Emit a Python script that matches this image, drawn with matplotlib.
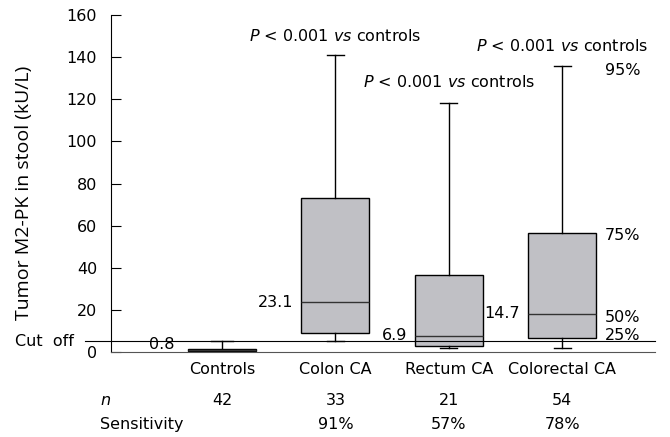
import matplotlib
matplotlib.use("Agg")
import matplotlib.pyplot as plt
from matplotlib.transforms import blended_transform_factory

categories = ["Controls", "Colon CA", "Rectum CA", "Colorectal CA"]
q1 = [0.5, 9.2, 2.9, 6.6]
medians = [0.9, 23.6, 7.8, 18.2]
q3 = [1.4, 73.0, 36.5, 56.5]
whislo = [0.5, 5.0, 1.7, 1.7]
whishi = [5.0, 141.0, 118.0, 136.0]
median_labels = ["0.8", "23.1", "6.9", "14.7"]
median_label_y = [3.5, 23.6, 7.8, 18.2]
n_values = ["42", "33", "21", "54"]
sensitivity = ["", "91%", "57%", "78%"]
p_texts = ["", "< 0.001", "< 0.001", "< 0.001"]
p_text_y = [0, 150, 128, 145.5]
pct_labels = ["95%", "75%", "50%", "25%"]
pct_y = [133.5, 55.5, 16.5, 8.0]
cutoff = 5.0
yticks = [0, 20, 40, 60, 80, 100, 120, 140, 160]

FS = 11.5
W, H = 670, 437
fig = plt.figure(figsize=(W / 100, H / 100), dpi=100)
ax = fig.add_axes([111 / W, 1 - 352 / H, 544 / W, 337 / H])

positions = [1, 2, 3, 4]
stats = []
for i in range(4):
    stats.append(dict(label=categories[i], q1=q1[i], med=medians[i], q3=q3[i],
                      whislo=whislo[i], whishi=whishi[i], fliers=[]))

ax.bxp(stats, positions=positions, widths=0.6, patch_artist=True,
       showfliers=False, capwidths=[0.2, 0.15, 0.15, 0.15],
       boxprops=dict(facecolor="#c0c0c5", edgecolor="black", linewidth=1.0),
       medianprops=dict(color="#333333", linewidth=1.0),
       whiskerprops=dict(color="black", linewidth=1.0),
       capprops=dict(color="black", linewidth=1.0))

ax.set_xlim(0.02, 4.82)
ax.set_ylim(0, 160)
ax.set_yticks(yticks)
ax.set_yticklabels([str(t) for t in yticks], fontsize=FS)
ax.tick_params(axis="y", direction="in", length=7, width=0.8, pad=10)
ax.tick_params(axis="x", length=0, labelsize=FS, pad=7)
ax.set_xticks(positions)
ax.set_xticklabels(categories)
for s in ["top", "right"]:
    ax.spines[s].set_visible(False)
ax.spines["left"].set_linewidth(0.8)
ax.spines["bottom"].set_linewidth(0.8)
ax.spines["bottom"].set_color("#555555")

ax.set_ylabel("Tumor M2-PK in stool (kU/L)", fontsize=14, family="Open Sans")
ax.yaxis.set_label_coords(-0.143, 0.472)

# cut-off line
ax.axhline(cutoff, xmin=-0.048, xmax=1.0, color="black", linewidth=0.8, clip_on=False)
trans = blended_transform_factory(ax.transAxes, ax.transData)
ax.text(-0.068, cutoff, "Cut  off", ha="right", va="center", fontsize=FS, transform=trans)

# median labels
offs = [0.42, 0.37, 0.37, 0.37]
for i in range(4):
    ax.text(positions[i] - offs[i], median_label_y[i], median_labels[i],
            ha="right", va="center", fontsize=FS)

# P-value texts
for i in range(1, 4):
    ax.text(positions[i], p_text_y[i], r"$\it{P}$ " + p_texts[i] + r" $\it{vs}$ controls",
            ha="center", va="center", fontsize=FS)

# percentile labels
for lbl, yv in zip(pct_labels, pct_y):
    ax.text(4.38, yv, lbl, ha="left", va="center", fontsize=FS)

# n and sensitivity rows
ax.text(-0.02, -23, "n", ha="left", va="center", fontsize=FS, style="italic",
        transform=trans, clip_on=False)
ax.text(-0.02, -34.5, "Sensitivity", ha="left", va="center", fontsize=FS,
        transform=trans, clip_on=False)
for i in range(4):
    ax.text(positions[i], -23, n_values[i], ha="center", va="center", fontsize=FS, clip_on=False)
    ax.text(positions[i], -34.5, sensitivity[i], ha="center", va="center", fontsize=FS, clip_on=False)

fig.savefig("out.png", dpi=100)
